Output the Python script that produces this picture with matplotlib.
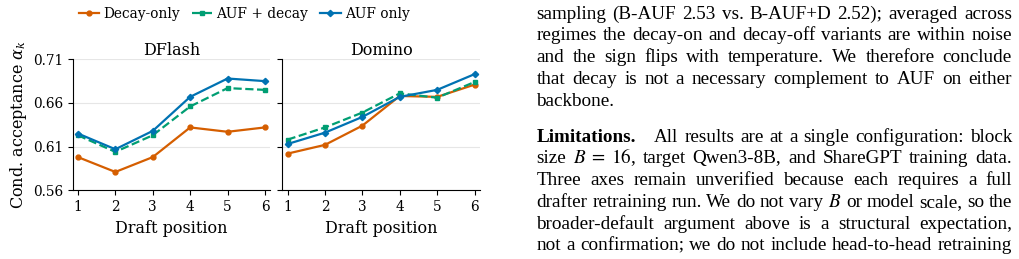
import matplotlib
matplotlib.use("Agg")
import matplotlib.pyplot as plt
from matplotlib.lines import Line2D

# draft positions 1..6
positions = [1, 2, 3, 4, 5, 6]

dflash_decay = [0.598, 0.581, 0.598, 0.632, 0.627, 0.632]
dflash_auf_decay = [0.623, 0.604, 0.623, 0.656, 0.677, 0.675]
dflash_auf = [0.625, 0.607, 0.628, 0.667, 0.688, 0.685]

domino_decay = [0.602, 0.612, 0.634, 0.668, 0.667, 0.681]
domino_auf_decay = [0.618, 0.632, 0.649, 0.671, 0.666, 0.684]
domino_auf = [0.613, 0.626, 0.644, 0.667, 0.675, 0.693]

yticks = [0.56, 0.61, 0.66, 0.71]
panel_titles = ["DFlash", "Domino"]
series_labels = ["Decay-only", "AUF + decay", "AUF only"]

para1 = [
    "sampling (B-AUF 2.53 vs. B-AUF+D 2.52); averaged across",
    "regimes the decay-on and decay-off variants are within noise",
    "and the sign flips with temperature. We therefore conclude",
    "that decay is not a necessary complement to AUF on either",
    "backbone.",
]
para2 = [
    "**Limitations.** All results are at a single configuration: block",
    r"size $B\;=\;16$, target Qwen3-8B, and ShareGPT training data.",
    "Three axes remain unverified because each requires a full",
    "drafter retraining run. We do not vary $B$ or model scale, so the",
    "broader-default argument above is a structural expectation,",
    "not a confirmation; we do not include head-to-head retraining",
]

W, H = 1020, 259
COLORS = ["#D55E00", "#009E73", "#0072B2"]
STYLES = [
    dict(ls="-", marker="o", ms=3.5),
    dict(ls="--", marker="s", ms=3.5),
    dict(ls="-", marker="D", ms=3.2),
]

plt.rcParams["font.family"] = "DejaVu Serif"
plt.rcParams["mathtext.fontset"] = "dejavuserif"

fig = plt.figure(figsize=(W / 100, H / 100), dpi=100)


def px_axes(left, top, right, bottom):
    return fig.add_axes([left / W, 1 - bottom / H, (right - left) / W, (bottom - top) / H])


ax1 = px_axes(72.7, 59.3, 270.2, 190.3)
ax2 = px_axes(282.3, 59.3, 479.8, 190.3)

panels = [
    (ax1, [dflash_decay, dflash_auf_decay, dflash_auf]),
    (ax2, [domino_decay, domino_auf_decay, domino_auf]),
]
for i, (ax, series) in enumerate(panels):
    for vals, color, st in zip(series, COLORS, STYLES):
        ax.plot(positions, vals, color=color, lw=1.6, mec=color, **st)
    ax.set_xlim(0.86, 6.14)
    ax.set_ylim(0.56, 0.71)
    ax.set_xticks(positions)
    ax.set_yticks(yticks)
    ax.grid(axis="y", color="#e6e6e6", lw=0.8)
    ax.set_axisbelow(True)
    ax.spines[["top", "right"]].set_visible(False)
    ax.tick_params(labelsize=9.8, length=3.5, width=0.8)
    ax.set_title(panel_titles[i], fontsize=11.5, pad=3)
    ax.set_xlabel("Draft position", fontsize=11.5, labelpad=4)
    if i == 0:
        ax.set_ylabel(r"Cond. acceptance $\alpha_k$", fontsize=11.5, labelpad=3)
    else:
        ax.set_yticklabels([])

handles = [
    Line2D([], [], color=c, lw=1.6, mec=c, **st) for c, st in zip(COLORS, STYLES)
]
fig.legend(handles, series_labels, loc="upper center", bbox_to_anchor=(244 / W, 1.02),
           ncol=3, frameon=False, fontsize=9.9, handlelength=1.5,
           columnspacing=0.85, handletextpad=0.3)

# paragraph text on the right, justified by hand
TXT_L, TXT_R = 536.5, 1012
TXT_SIZE = 13.8
renderer = fig.canvas.get_renderer()


def put_line(line, y, justify=True):
    items = []
    for word in line.split(" "):
        bold = word.startswith("**")
        s = word.strip("*")
        t = fig.text(0, 1 - y / H, s, fontsize=TXT_SIZE, family="Liberation Serif",
                     weight="bold" if bold else "normal", math_fontfamily="stix",
                     va="baseline", ha="left")
        w = t.get_window_extent(renderer).width
        if bold:
            w += 12
        items.append((t, w))
    total = sum(w for _, w in items)
    gap = (TXT_R - TXT_L - total) / (len(items) - 1) if justify and len(items) > 1 else 4.5
    x = TXT_L
    for t, w in items:
        t.set_x(x / W)
        x += w + gap


step = 21.75
for k, line in enumerate(para1):
    put_line(line, 18.6 + k * step, justify=k < len(para1) - 1)
for k, line in enumerate(para2):
    put_line(line, 141.7 + k * step)

fig.savefig("out.png", dpi=100)
